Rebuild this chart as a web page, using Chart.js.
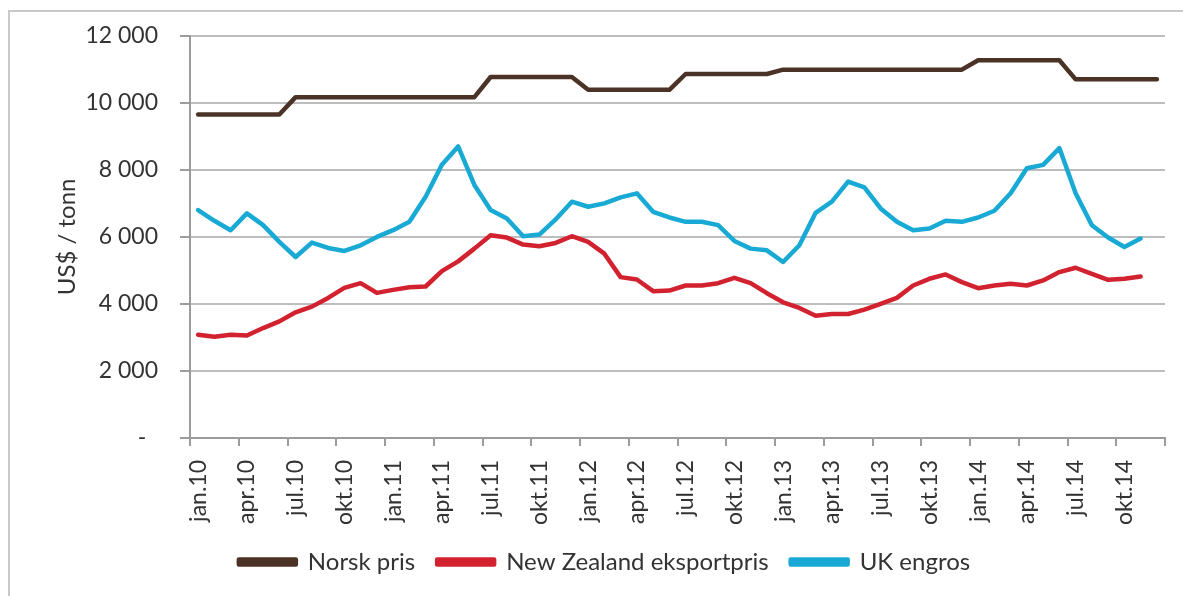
<!DOCTYPE html>
<html>
<head>
<meta charset="utf-8">
<script src="https://cdn.jsdelivr.net/npm/chart.js@4.4.1/dist/chart.umd.min.js"></script>
<style>
  html, body { margin: 0; background: #fff; overflow: hidden; }
  #frame { position: absolute; left: 8px; top: 10px; width: 1300px; height: 700px;
           border-left: 2px solid #c9c9c9; border-top: 2px solid #c9c9c9; }
  #wrap { position: absolute; left: 0; top: 0; width: 1200px; height: 596px; }
</style>
</head>
<body>
<div id="frame"></div>
<div id="wrap"><canvas id="mycanvas" width="1200" height="596"></canvas></div>
<script>
/* Months jan.10 - des.14 */
var months = [
  'jan.10','feb.10','mar.10','apr.10','mai.10','jun.10','jul.10','aug.10','sep.10','okt.10','nov.10','des.10',
  'jan.11','feb.11','mar.11','apr.11','mai.11','jun.11','jul.11','aug.11','sep.11','okt.11','nov.11','des.11',
  'jan.12','feb.12','mar.12','apr.12','mai.12','jun.12','jul.12','aug.12','sep.12','okt.12','nov.12','des.12',
  'jan.13','feb.13','mar.13','apr.13','mai.13','jun.13','jul.13','aug.13','sep.13','okt.13','nov.13','des.13',
  'jan.14','feb.14','mar.14','apr.14','mai.14','jun.14','jul.14','aug.14','sep.14','okt.14','nov.14','des.14'
];

/* Norsk pris, US$ / tonn */
var norsk = [
  9650, 9650, 9650, 9650, 9650, 9650, 10170, 10170, 10170, 10170, 10170, 10170,
  10170, 10170, 10170, 10170, 10170, 10170, 10770, 10770, 10770, 10770, 10770, 10770,
  10390, 10390, 10390, 10390, 10390, 10390, 10860, 10860, 10860, 10860, 10860, 10860,
  10990, 10990, 10990, 10990, 10990, 10990, 10990, 10990, 10990, 10990, 10990, 10990,
  11270, 11270, 11270, 11270, 11270, 11270, 10700, 10700, 10700, 10700, 10700, 10700
];

/* New Zealand eksportpris */
var newZealand = [
  3080, 3020, 3080, 3060, 3280, 3480, 3750, 3920, 4180, 4480, 4620, 4330,
  4420, 4500, 4520, 4980, 5270, 5650, 6050, 5980, 5770, 5720, 5820, 6020,
  5850, 5500, 4800, 4730, 4380, 4400, 4550, 4550, 4620, 4780, 4620, 4320,
  4050, 3880, 3650, 3700, 3700, 3830, 4000, 4180, 4550, 4750, 4880, 4650,
  4470, 4550, 4600, 4550, 4700, 4950, 5080, 4900, 4720, 4750, 4820
];

/* UK engros */
var ukEngros = [
  6800, 6480, 6200, 6700, 6350, 5850, 5400, 5830, 5670, 5580, 5750, 6000,
  6200, 6450, 7200, 8150, 8700, 7550, 6800, 6550, 6020, 6070, 6520, 7050,
  6900, 7000, 7180, 7300, 6750, 6580, 6450, 6450, 6350, 5880, 5650, 5600,
  5250, 5750, 6720, 7050, 7650, 7480, 6850, 6450, 6200, 6250, 6480, 6450,
  6580, 6780, 7300, 8050, 8150, 8650, 7300, 6350, 5980, 5700, 5950
];

var yTicks = [0, 2000, 4000, 6000, 8000, 10000, 12000];

var textColor = '#333333';
var axisColor = '#9c9c9c';
var gridColor = '#bdbdbd';
var fontName = 'Lato';

/* 12 000 style labels, "-" for zero */
function yLabel(v) {
  if (v === 0) return '-  ';
  return String(v).replace(/\B(?=(\d{3})+(?!\d))/g, ' ');
}

var chartdata = {
  labels: months,
  datasets: [
    { label: 'Norsk pris', data: norsk, borderColor: '#4b3226', backgroundColor: '#4b3226' },
    { label: 'New Zealand eksportpris', data: newZealand, borderColor: '#d3222f', backgroundColor: '#d3222f' },
    { label: 'UK engros', data: ukEngros, borderColor: '#18aad4', backgroundColor: '#18aad4' }
  ]
};

var ctx = document.getElementById('mycanvas');
var lineGraph = new Chart(ctx, {
  type: 'line',
  data: chartdata,
  options: {
    responsive: false,
    animation: false,
    devicePixelRatio: 1,
    layout: { padding: { left: 44, right: 35, top: 33, bottom: 12 } },
    elements: {
      point: { radius: 0 },
      line: { borderWidth: 4.5, tension: 0, borderCapStyle: 'round', borderJoinStyle: 'round' }
    },
    plugins: {
      tooltip: { enabled: false },
      legend: {
        position: 'bottom',
        labels: {
          boxWidth: 57,
          boxHeight: 5,
          padding: 22,
          color: textColor,
          font: { family: fontName, size: 24 }
        }
      }
    },
    scales: {
      x: {
        type: 'category',
        offset: true,
        grid: {
          offset: true,
          drawOnChartArea: false,
          tickLength: 8,
          lineWidth: 2,
          color: function(c) {
            return (c.index === undefined || c.index % 3 === 0) ? axisColor : 'rgba(0,0,0,0)';
          }
        },
        border: { color: axisColor, width: 2 },
        ticks: {
          autoSkip: false,
          minRotation: 90,
          maxRotation: 90,
          padding: 14,
          color: textColor,
          font: { family: fontName, size: 23 },
          callback: function(val, i) { return i % 3 === 0 ? months[i] : ''; }
        },
        afterFit: function(scale) { scale.height = 90; }
      },
      y: {
        min: 0,
        max: 12000,
        afterBuildTicks: function(scale) {
          scale.ticks = yTicks.map(function(v) { return { value: v }; });
        },
        grid: { color: gridColor, lineWidth: 2, tickLength: 10, tickColor: axisColor },
        border: { color: axisColor, width: 2 },
        ticks: {
          padding: 22,
          color: textColor,
          font: { family: fontName, size: 23 },
          callback: function(v) { return yLabel(v); }
        },
        title: {
          display: true,
          text: 'US$ / tonn',
          color: textColor,
          font: { family: fontName, size: 24 },
          padding: { top: 9, bottom: 0 }
        },
        afterFit: function(scale) { scale.width = 146; }
      }
    }
  }
});
</script>
</body>
</html>
